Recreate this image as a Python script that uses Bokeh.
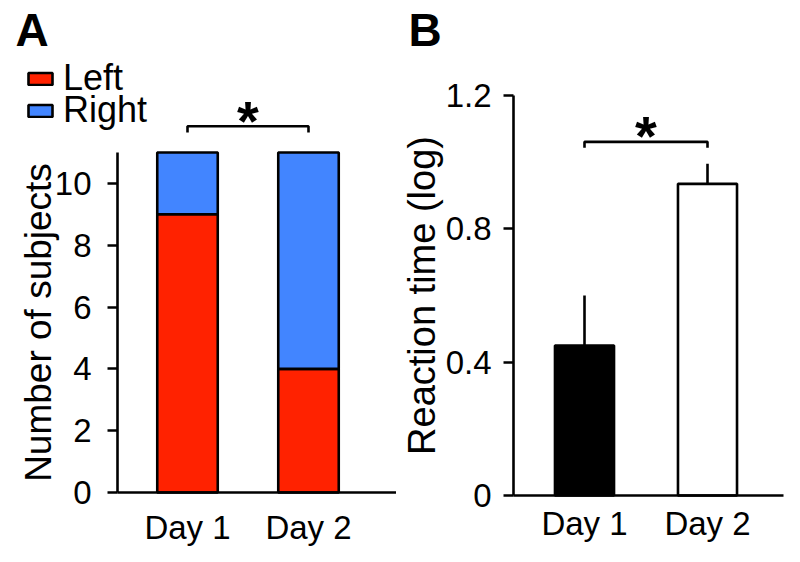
from bokeh.plotting import figure
from bokeh.layouts import row
from bokeh.models import (Range1d, Label, FixedTicker, ColumnDataSource, LinearAxis,
                          Legend, LegendItem)
from bokeh.embed import file_html
from bokeh.resources import INLINE
from bokeh.core.properties import value

# ---------------- data ----------------
days = ["Day 1", "Day 2"]
left_counts = [9, 4]
right_counts = [2, 7]
count_ticks = [0, 2, 4, 6, 8, 10]
rt_mean = [0.45, 0.935]
rt_sem = [0.15, 0.06]
rt_ticks = [0, 0.4, 0.8, 1.2]
rt_axis_max = 1.2
series_names = ["Left", "Right"]

FONT = "Liberation Sans"
RED = "#FF2200"
BLUE = "#4285FF"
LW = 2.6

xpos = [1, 2]
totals = [l + r for l, r in zip(left_counts, right_counts)]
count_max = max(totals)

H = 546


def style_axis(ax, size):
    ax.axis_line_width = LW
    ax.axis_line_color = "black"
    ax.major_tick_line_width = LW
    ax.major_tick_line_color = "black"
    ax.minor_tick_out = 0
    ax.minor_tick_in = 0
    ax.major_tick_in = 0
    ax.major_label_text_font = FONT
    ax.major_label_text_font_size = size
    ax.major_label_text_color = "black"
    ax.axis_label_text_font = FONT
    ax.axis_label_text_font_style = "normal"
    ax.axis_label_text_color = "black"


# ---------------- panel A ----------------
A_W = 396
A_x1_px, A_px_per_x = 187.0, 121.0          # pixel of Day 1, pixels per category step
A_y0_px, A_px_per_y = 492.0, 340.0 / count_max
A_axis_left_px, A_axis_right_px = 117.0, 396.0

xa0 = 1 - A_x1_px / A_px_per_x
xa1 = xa0 + A_W / A_px_per_x
ya0 = -(H - A_y0_px) / A_px_per_y
ya1 = ya0 + H / A_px_per_y
a_axis_x0 = xa0 + A_axis_left_px / A_px_per_x
a_axis_x1 = xa0 + A_axis_right_px / A_px_per_x

pa = figure(width=A_W, height=H, output_backend="svg", toolbar_location=None,
            x_range=Range1d(xa0, xa1), y_range=Range1d(ya0, ya1),
            x_axis_location=None, y_axis_location=None, min_border=0, title=None)
pa.outline_line_color = None
pa.grid.visible = False

src = ColumnDataSource(dict(x=xpos, Left=left_counts, Right=right_counts))
stack_renderers = pa.vbar_stack(series_names, x="x", width=0.5, source=src,
                                fill_color=[RED, BLUE], line_color="black", line_width=LW)

# significance bracket
ba = count_max + 0.85
da = 0.2
pa.line(x=[xpos[0], xpos[0], xpos[1], xpos[1]], y=[ba - da, ba, ba, ba - da],
        line_color="black", line_width=LW)
pa.text(x=[(xpos[0] + xpos[1]) / 2], y=[ba + 0.2], text=["*"], text_align="center",
        text_baseline="alphabetic", text_font=value(FONT), text_font_size="56px",
        text_font_style="bold", text_color="black")

xa = LinearAxis(fixed_location=0, bounds=(a_axis_x0, a_axis_x1))
xa.ticker = FixedTicker(ticks=xpos)
xa.major_label_overrides = {x: d for x, d in zip(xpos, days)}
style_axis(xa, "33px")
xa.major_tick_out = 0
xa.major_label_standoff = 16
pa.add_layout(xa, "below")

ya = LinearAxis(fixed_location=a_axis_x0, bounds=(0, count_max))
ya.ticker = FixedTicker(ticks=count_ticks)
style_axis(ya, "33px")
ya.major_tick_out = 10
ya.major_label_standoff = 16
ya.axis_label = "Number of subjects"
ya.axis_label_text_font_size = "37px"
ya.axis_label_standoff = -7
pa.add_layout(ya, "left")

# legend: one box per entry so the rows can sit close together
legend_bottoms_px = [99, 131]
for name, rend, bottom in zip(series_names, stack_renderers, legend_bottoms_px):
    lg = Legend(items=[LegendItem(label=name, renderers=[rend])],
                location=(25, H - bottom))
    lg.background_fill_alpha = 0
    lg.border_line_alpha = 0
    lg.padding = 0
    lg.margin = 0
    lg.spacing = 0
    lg.glyph_width = 30
    lg.glyph_height = 15
    lg.label_standoff = 8
    lg.label_text_font = FONT
    lg.label_text_font_size = "36px"
    lg.label_text_color = "black"
    pa.add_layout(lg)

pa.add_layout(Label(x=15, y=H - 29, x_units="screen", y_units="screen", text="A",
                    text_font=FONT, text_font_size="46px", text_font_style="bold",
                    text_baseline="alphabetic", text_color="black"))

# ---------------- panel B ----------------
B_W = 396
B_off = A_W
B_x1_px, B_px_per_x = 584.0 - B_off, 123.0
B_y0_px, B_px_per_y = 495.0, 400.0 / rt_axis_max
B_axis_left_px, B_axis_right_px = 513.0 - B_off, 783.0 - B_off

xb0 = 1 - B_x1_px / B_px_per_x
xb1 = xb0 + B_W / B_px_per_x
yb0 = -(H - B_y0_px) / B_px_per_y
yb1 = yb0 + H / B_px_per_y
b_axis_x0 = xb0 + B_axis_left_px / B_px_per_x
b_axis_x1 = xb0 + B_axis_right_px / B_px_per_x

pb = figure(width=B_W, height=H, output_backend="svg", toolbar_location=None,
            x_range=Range1d(xb0, xb1), y_range=Range1d(yb0, yb1),
            x_axis_location=None, y_axis_location=None, min_border=0, title=None)
pb.outline_line_color = None
pb.grid.visible = False

pb.vbar(x=xpos, top=rt_mean, width=0.48, fill_color=["black", "white"],
        line_color="black", line_width=LW)
pb.segment(x0=xpos, y0=rt_mean, x1=xpos,
           y1=[m + s for m, s in zip(rt_mean, rt_sem)],
           line_color="black", line_width=LW)

bb = max(m + s for m, s in zip(rt_mean, rt_sem)) + 0.066
db = 0.018
pb.line(x=[xpos[0], xpos[0], xpos[1], xpos[1]], y=[bb - db, bb, bb, bb - db],
        line_color="black", line_width=LW)
pb.text(x=[(xpos[0] + xpos[1]) / 2], y=[bb + 0.02], text=["*"], text_align="center",
        text_baseline="alphabetic", text_font=value(FONT), text_font_size="56px",
        text_font_style="bold", text_color="black")

xb = LinearAxis(fixed_location=0, bounds=(b_axis_x0, b_axis_x1))
xb.ticker = FixedTicker(ticks=xpos)
xb.major_label_overrides = {x: d for x, d in zip(xpos, days)}
style_axis(xb, "33px")
xb.major_tick_out = 0
xb.major_label_standoff = 9
pb.add_layout(xb, "below")

yb = LinearAxis(fixed_location=b_axis_x0, bounds=(0, rt_axis_max))
yb.ticker = FixedTicker(ticks=rt_ticks)
yb.major_label_overrides = {0: "0"}
style_axis(yb, "33px")
yb.major_tick_out = 10
yb.major_label_standoff = 12
yb.axis_label = "Reaction time (log)"
yb.axis_label_text_font_size = "38px"
yb.axis_label_standoff = 0
pb.add_layout(yb, "left")

pb.add_layout(Label(x=408 - B_off, y=H - 29, x_units="screen", y_units="screen", text="B",
                    text_font=FONT, text_font_size="46px", text_font_style="bold",
                    text_baseline="alphabetic", text_color="black"))

layout = row(pa, pb)
open("out.html", "w").write(file_html(layout, INLINE))
